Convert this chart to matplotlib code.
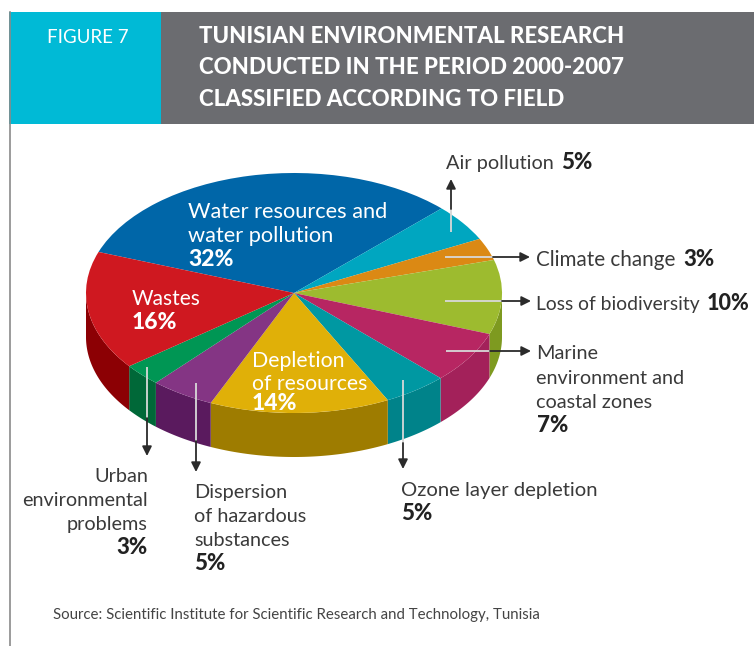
import numpy as np
import matplotlib
matplotlib.use("Agg")
import matplotlib.pyplot as plt
from matplotlib.patches import Rectangle

plt.rcParams["font.family"] = ["Lato", "DejaVu Sans"]

# clockwise from the top-left edge of the blue slice
fields = ["Water resources and water pollution", "Air pollution", "Climate change",
          "Loss of biodiversity", "Marine environment and coastal zones",
          "Ozone layer depletion", "Depletion of resources",
          "Dispersion of hazardous substances", "Urban environmental problems", "Wastes"]
shares = [32, 5, 3, 10, 7, 5, 14, 5, 3, 16]
top_colors = ["#0066a8", "#00a6c0", "#db8914", "#9dbb2f", "#b72662",
              "#0098a2", "#e0b008", "#843584", "#009654", "#cf1820"]
side_colors = ["#004f82", "#00839a", "#a86a0c", "#7e9a20", "#a3215a",
               "#00838a", "#9e7c00", "#5a1a5e", "#006838", "#8c0004"]

title_lines = ["TUNISIAN ENVIRONMENTAL RESEARCH",
               "CONDUCTED IN THE PERIOD 2000-2007",
               "CLASSIFIED ACCORDING TO FIELD"]
source = "Source: Scientific Institute for Scientific Research and Technology, Tunisia"

W, H = 754, 646
cx, cy, rx, ry = 294, 293, 208, 120
depth = 44 / ry
start = 160

fig = plt.figure(figsize=(W / 100, H / 100), dpi=100)

# the pie itself, squashed by giving its axes the ellipse's box
pie_ax = fig.add_axes([(cx - rx) / W, (H - cy - ry) / H, 2 * rx / W, 2 * ry / H], zorder=1)
pie_ax.pie(shares, colors=top_colors, startangle=start, counterclock=False,
           wedgeprops={"clip_on": False, "linewidth": 0})
pie_ax.set_aspect("auto")
pie_ax.set_xlim(-1, 1)
pie_ax.set_ylim(-1, 1)

# side wall, only the front half of the ring shows
edges = start - np.cumsum([0] + shares) * 3.6
for i in range(len(shares)):
    a1 = max(edges[i + 1], -180)
    a2 = min(edges[i], 0)
    if a1 >= a2:
        continue
    t = np.radians(np.linspace(a1, a2, 60))
    xs = np.r_[np.cos(t), np.cos(t[::-1])]
    ys = np.r_[np.sin(t), np.sin(t[::-1]) - depth]
    pie_ax.fill(xs, ys, color=side_colors[i], lw=0, clip_on=False, zorder=0.5)

# overlay in reference pixels for header, labels and leaders
ax = fig.add_axes([0, 0, 1, 1], zorder=2)
ax.set_xlim(0, W)
ax.set_ylim(H, 0)
ax.axis("off")

ax.add_patch(Rectangle((9, 12), 152, 112, color="#00bad6", lw=0))
ax.add_patch(Rectangle((161, 12), W - 161, 112, color="#6b6c70", lw=0))
ax.plot([9.5, 9.5], [12, H], color="#8a8a8a", lw=1.2)

ax.text(47, 43, "FIGURE 7", color="white", fontsize=13.5, va="baseline")
for line, y in zip(title_lines, [43, 74, 106]):
    ax.text(199, y, line, color="white", fontsize=16, fontweight=900, va="baseline")


def leader(x0, y0, x1, y1, x2, y2):
    ax.plot([x0, x1], [y0, y1], color="#d8d8d8", lw=1.3, solid_capstyle="butt", zorder=3)
    ax.annotate("", xy=(x2, y2), xytext=(x1, y1), zorder=3,
                arrowprops=dict(arrowstyle="-|>", color="#2b2b2b", lw=1.3,
                                mutation_scale=14, shrinkA=0, shrinkB=0))


leader(451, 232, 451, 209, 451, 179)
leader(445, 257, 493, 257, 530, 257)
leader(445, 301, 502, 301, 531, 301)
leader(446, 351, 490, 351, 531, 351)
leader(403, 380, 403, 443, 403, 469)
leader(147, 367, 147, 418, 147, 456)
leader(196, 383, 196, 441, 196, 472)


def label(x, y, s, color="#3a3a3a", size=14.3, bold=False, ha="left"):
    ax.text(x, y, s, color=color, fontsize=size, ha=ha, va="baseline",
            fontweight=900 if bold else "normal", zorder=4)


# inside labels
label(188, 218, "Water resources and", "white", 15.7)
label(188, 242, "water pollution", "white", 15.7)
label(188, 266, "32%", "white", 16.5, True)
label(132, 305, "Wastes", "white", 15)
label(132, 329, "16%", "white", 16.5, True)
label(252, 367, "Depletion", "white", 15.3)
label(252, 390, "of resources", "white", 15.3)
label(252, 410, "14%", "white", 16.5, True)

# outside labels
label(446, 169, "Air pollution")
label(561, 169, "5%", "#222222", 16, True)
label(536, 266, "Climate change", size=14.9)
label(683, 266, "3%", "#222222", 16, True)
label(536, 310, "Loss of biodiversity", size=13.9)
label(707, 310, "10%", "#222222", 15.5, True)
label(536, 359, "Marine")
label(536, 384, "environment and")
label(536, 408, "coastal zones")
label(537, 432, "7%", "#222222", 16, True)
label(401, 496, "Ozone layer depletion", size=14.6)
label(401, 520, "5%", "#222222", 16, True)
label(194, 498, "Dispersion")
label(194, 522, "of hazardous")
label(194, 546, "substances")
label(194, 570, "5%", "#222222", 16, True)
label(148, 482, "Urban", ha="right")
label(148, 506, "environmental", ha="right")
label(148, 530, "problems", ha="right")
label(148, 554, "3%", "#222222", 16, True, ha="right")

ax.text(53, 619, source, color="#444444", fontsize=10.85, va="baseline")

fig.savefig("out.png", dpi=100)
